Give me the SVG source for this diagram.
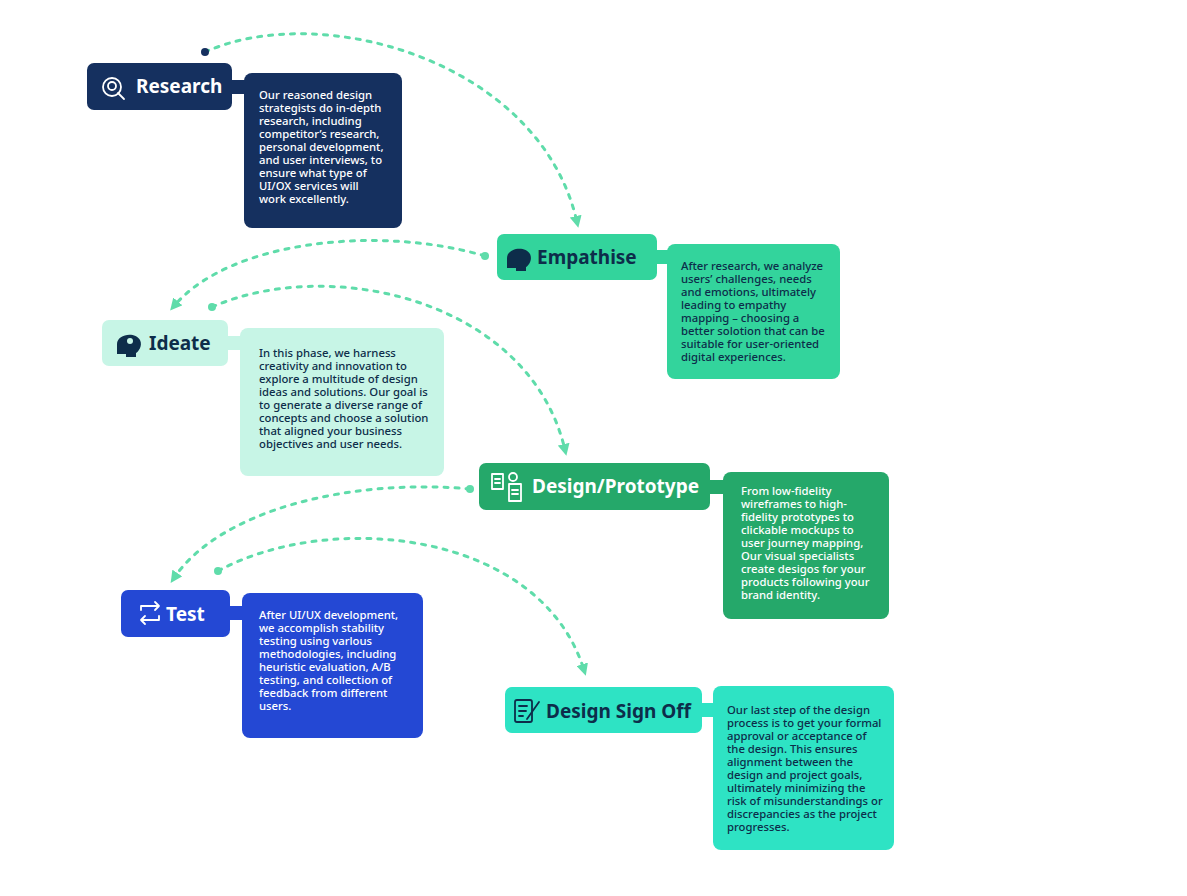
<svg xmlns="http://www.w3.org/2000/svg" width="1187" height="896" viewBox="0 0 1187 896">
<defs>
<style>
.t{font-family:"Noto Sans","Open Sans",sans-serif;font-weight:700;font-size:19px}
.d{font-family:"Noto Sans","Open Sans",sans-serif;font-size:11.3px;font-weight:500}
.c{fill:none;stroke:#5fdcaa;stroke-width:3;stroke-dasharray:4 7;stroke-linecap:round}
.ic{fill:none;stroke-width:1.8;stroke-linecap:round;stroke-linejoin:round}
</style>
<marker id="ah" viewBox="0 0 10 10" refX="5" refY="5" markerWidth="4" markerHeight="4" orient="auto"><path d="M0,0 L10,5 L0,10 z" fill="#5fdcaa"/></marker>
</defs>
<rect width="1187" height="896" fill="#fff"/>
<g id="connectors">
<path class="c" d="M205,52 C320,0 540,60 577,222" marker-end="url(#ah)"/>
<circle cx="205" cy="52" r="4" fill="#15305f"/>
<path class="c" d="M485,256 C380,225 230,240 174,306" marker-end="url(#ah)"/>
<circle cx="485" cy="256" r="4" fill="#5fdcaa"/>
<path class="c" d="M212,307 C330,255 530,300 565,450" marker-end="url(#ah)"/>
<circle cx="212" cy="307" r="4" fill="#5fdcaa"/>
<path class="c" d="M470,489 C350,478 220,510 174,578" marker-end="url(#ah)"/>
<circle cx="470" cy="489" r="4" fill="#5fdcaa"/>
<path class="c" d="M218,571 C330,510 540,530 584,670" marker-end="url(#ah)"/>
<circle cx="218" cy="571" r="4" fill="#5fdcaa"/>
</g>
<g id="research">
<rect x="87" y="63" width="145" height="47" rx="7" fill="#15305f"/>
<rect x="228" y="80" width="20" height="14" fill="#15305f"/>
<rect x="244" y="73" width="158" height="155" rx="8" fill="#15305f"/>
<g class="ic" stroke="#fff"><circle cx="112" cy="87" r="9"/><circle cx="112" cy="86" r="4"/><line x1="118" y1="93" x2="124" y2="99"/></g>
<text class="t" x="136" y="93" fill="#fff">Research</text>
<text class="d" fill="#fff"><tspan x="259" y="99">Our reasoned design</tspan><tspan x="259" y="112">strategists do in-depth</tspan><tspan x="259" y="125">research, including</tspan><tspan x="259" y="138">competitor’s research,</tspan><tspan x="259" y="151">personal development,</tspan><tspan x="259" y="164">and user interviews, to</tspan><tspan x="259" y="177">ensure what type of</tspan><tspan x="259" y="190">UI/OX services will</tspan><tspan x="259" y="203">work excellently.</tspan></text>
</g>
<g id="empathise">
<rect x="497" y="234" width="160" height="46" rx="7" fill="#33d49c"/>
<rect x="653" y="250" width="18" height="14" fill="#33d49c"/>
<rect x="667" y="244" width="173" height="135" rx="8" fill="#33d49c"/>
<path d="M507,268 L507,258 C507,248 525,245 530,254 C533,260 528,266 526,267 L526,271 L516,271 L516,268 z" fill="#0d2d4a"/>
<text class="t" x="537" y="264" fill="#0d2d4a">Empathise</text>
<text class="d" fill="#0d2d4a"><tspan x="681" y="270">After research, we analyze</tspan><tspan x="681" y="283">users’ challenges, needs</tspan><tspan x="681" y="296">and emotions, ultimately</tspan><tspan x="681" y="309">leading to empathy</tspan><tspan x="681" y="322">mapping – choosing a</tspan><tspan x="681" y="335">better solotion that can be</tspan><tspan x="681" y="348">suitable for user-oriented</tspan><tspan x="681" y="361">digital experiences.</tspan></text>
</g>
<g id="ideate">
<rect x="102" y="320" width="126" height="46" rx="7" fill="#c7f5e6"/>
<rect x="224" y="336" width="20" height="14" fill="#c7f5e6"/>
<rect x="240" y="328" width="204" height="148" rx="8" fill="#c7f5e6"/>
<path d="M117,354 L117,344 C117,334 135,331 140,340 C143,346 138,352 136,353 L136,357 L126,357 L126,354 z" fill="#0d2d4a"/>
<circle cx="130" cy="341" r="3" fill="#c7f5e6"/>
<text class="t" x="149" y="350" fill="#0d2d4a">Ideate</text>
<text class="d" fill="#0d2d4a"><tspan x="259" y="357">In this phase, we harness</tspan><tspan x="259" y="370">creativity and innovation to</tspan><tspan x="259" y="383">explore a multitude of design</tspan><tspan x="259" y="396">ideas and solutions. Our goal is</tspan><tspan x="259" y="409">to generate a diverse range of</tspan><tspan x="259" y="422">concepts and choose a solution</tspan><tspan x="259" y="435">that aligned your business</tspan><tspan x="259" y="448">objectives and user needs.</tspan></text>
</g>
<g id="design-prototype">
<rect x="479" y="463" width="231" height="47" rx="7" fill="#25a86a"/>
<rect x="706" y="480" width="21" height="14" fill="#25a86a"/>
<rect x="723" y="472" width="166" height="147" rx="8" fill="#25a86a"/>
<g class="ic" stroke="#fff" stroke-width="1.5"><rect x="492" y="474" width="11" height="15"/><rect x="509" y="484" width="12" height="17"/><circle cx="513" cy="477" r="4"/><line x1="495" y1="479" x2="500" y2="479"/><line x1="495" y1="483" x2="500" y2="483"/><line x1="512" y1="490" x2="518" y2="490"/><line x1="512" y1="494" x2="518" y2="494"/></g>
<text class="t" x="532" y="493" fill="#fff">Design/Prototype</text>
<text class="d" fill="#fff"><tspan x="741" y="495">From low-fidelity</tspan><tspan x="741" y="508">wireframes to high-</tspan><tspan x="741" y="521">fidelity prototypes to</tspan><tspan x="741" y="534">clickable mockups to</tspan><tspan x="741" y="547">user journey mapping,</tspan><tspan x="741" y="560">Our visual specialists</tspan><tspan x="741" y="573">create desigos for your</tspan><tspan x="741" y="586">products following your</tspan><tspan x="741" y="599">brand identity.</tspan></text>
</g>
<g id="test">
<rect x="121" y="590" width="109" height="47" rx="7" fill="#2448d4"/>
<rect x="226" y="606" width="20" height="14" fill="#2448d4"/>
<rect x="242" y="593" width="181" height="145" rx="8" fill="#2448d4"/>
<g class="ic" stroke="#fff"><path d="M141,610 L141,606 L159,606 M155,602 L159,606 L155,610"/><path d="M159,616 L159,620 L141,620 M145,616 L141,620 L145,624"/></g>
<text class="t" x="166" y="621" fill="#fff">Test</text>
<text class="d" fill="#fff"><tspan x="259" y="619">After UI/UX development,</tspan><tspan x="259" y="632">we accomplish stability</tspan><tspan x="259" y="645">testing using varlous</tspan><tspan x="259" y="658">methodologies, including</tspan><tspan x="259" y="671">heuristic evaluation, A/B</tspan><tspan x="259" y="684">testing, and collection of</tspan><tspan x="259" y="697">feedback from different</tspan><tspan x="259" y="710">users.</tspan></text>
</g>
<g id="design-sign-off">
<rect x="505" y="687" width="197" height="46" rx="7" fill="#2ee3c4"/>
<rect x="698" y="703" width="19" height="14" fill="#2ee3c4"/>
<rect x="713" y="686" width="181" height="164" rx="8" fill="#2ee3c4"/>
<g class="ic" stroke="#0d2d4a"><rect x="515" y="700" width="17" height="22" rx="2"/><line x1="519" y1="706" x2="527" y2="706"/><line x1="519" y1="711" x2="526" y2="711"/><line x1="519" y1="716" x2="523" y2="716"/><line x1="527" y1="719" x2="539" y2="702"/></g>
<text class="t" x="546" y="718" fill="#0d2d4a">Design Sign Off</text>
<text class="d" fill="#0d2d4a"><tspan x="727" y="714">Our last step of the design</tspan><tspan x="727" y="727">process is to get your formal</tspan><tspan x="727" y="740">approval or acceptance of</tspan><tspan x="727" y="753">the design. This ensures</tspan><tspan x="727" y="766">alignment between the</tspan><tspan x="727" y="779">design and project goals,</tspan><tspan x="727" y="792">ultimately minimizing the</tspan><tspan x="727" y="805">risk of misunderstandings or</tspan><tspan x="727" y="818">discrepancies as the project</tspan><tspan x="727" y="831">progresses.</tspan></text>
</g>
</svg>
